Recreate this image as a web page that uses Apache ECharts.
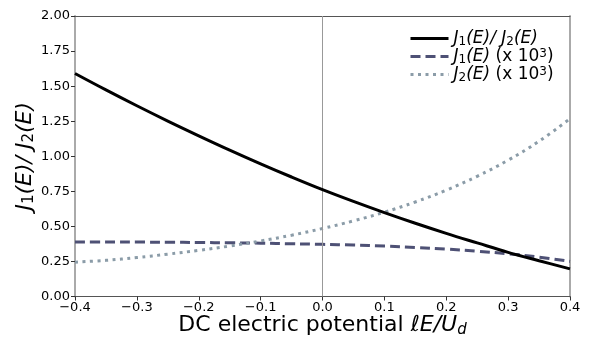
<!DOCTYPE html>
<html>
<head>
<meta charset="utf-8">
<script src="https://cdn.jsdelivr.net/npm/echarts@6/dist/echarts.min.js"></script>
<style>
  html, body { margin: 0; padding: 0; background: #fff; }
  #chart { width: 598px; height: 349px; }
</style>
</head>
<body>
<div id="chart"></div>
<script>
// values, x step 0.05
const xValues = [-0.4, -0.35, -0.3, -0.25, -0.2, -0.15, -0.1, -0.05, 0, 0.05, 0.1, 0.15, 0.2, 0.25, 0.3, 0.35, 0.4]
const ratio = [1.59, 1.473, 1.36, 1.251, 1.146, 1.044, 0.946, 0.852, 0.762, 0.678, 0.598, 0.522, 0.45, 0.382, 0.315, 0.255, 0.197]
const j1 = [0.389, 0.389, 0.388, 0.387, 0.385, 0.383, 0.38, 0.376, 0.372, 0.367, 0.36, 0.35, 0.338, 0.323, 0.305, 0.281, 0.25]
const j2 = [0.245, 0.258, 0.278, 0.302, 0.329, 0.36, 0.396, 0.437, 0.485, 0.539, 0.601, 0.674, 0.758, 0.857, 0.972, 1.107, 1.268]

const seriesNames = ['ratio', 'j1', 'j2']
const legendLabels = {
  ratio: '{i|J}{s|1}{i|(E)/ J}{s|2}{i|(E)}',
  j1: '{i|J}{s|1}{i|(E)}{n| (x 10}{p|3}{n|)}',
  j2: '{i|J}{s|2}{i|(E)}{n| (x 10}{p|3}{n|)}',
}

const font = 'DejaVu Sans'
const minus = (s) => s.replace('-', '\u2212')
const pairs = (ys) => xValues.map((x, i) => [x, ys[i]])

const chart = echarts.init(document.getElementById('chart'), null, { renderer: 'canvas' })

const legendRich = {
  i: { fontFamily: font, fontStyle: 'italic', fontSize: 17, color: '#000' },
  n: { fontFamily: font, fontSize: 17, color: '#000' },
  s: { fontFamily: font, fontSize: 12, color: '#000', verticalAlign: 'bottom', padding: [6, 0, 0, 0] },
  p: { fontFamily: font, fontSize: 12, color: '#000', verticalAlign: 'top', padding: [0, 0, 6, 0] },
}

const option = {
  animation: false,
  grid: { left: 75, right: 28, top: 16, bottom: 52.5 },
  legend: {
    orient: 'vertical',
    left: 404,
    top: 25,
    itemWidth: 38,
    itemHeight: 12,
    itemGap: 0,
    data: seriesNames,
    itemStyle: { opacity: 0, borderWidth: 0 },
    lineStyle: { width: 3 },
    formatter: (name) => legendLabels[name],
    textStyle: { fontFamily: font, fontSize: 17, color: '#000', rich: legendRich },
  },
  xAxis: [
    {
      type: 'value',
      min: -0.4,
      max: 0.4,
      interval: 0.1,
      position: 'bottom',
      splitLine: { show: false },
      axisLine: { show: true, onZero: false, lineStyle: { color: '#555', width: 1 } },
      axisTick: { show: true, length: 4, lineStyle: { color: '#333' } },
      axisLabel: {
        fontFamily: font, fontSize: 13, color: '#000', margin: 5,
        formatter: (v) => minus(v.toFixed(1)),
      },
      name: '{t|DC electric potential }{i|ℓE/U}{s|d}',
      nameLocation: 'middle',
      nameGap: 17,
      nameMoveOverlap: false,
      nameTextStyle: {
        fontFamily: font, fontSize: 22, color: '#000', verticalAlign: 'top',
        rich: {
          t: { fontFamily: font, fontSize: 22, color: '#000' },
          i: { fontFamily: font, fontSize: 22, fontStyle: 'italic', color: '#000' },
          s: { fontFamily: font, fontSize: 15, fontStyle: 'italic', color: '#000', verticalAlign: 'bottom', padding: [9, 0, 0, 0] },
        },
      },
    },
    {
      type: 'value',
      min: -0.4,
      max: 0.4,
      position: 'top',
      splitLine: { show: false },
      axisLine: { show: true, onZero: false, lineStyle: { color: '#555', width: 1 } },
      axisTick: { show: false },
      axisLabel: { show: false },
    },
  ],
  yAxis: [
    {
      type: 'value',
      min: 0,
      max: 2,
      interval: 0.25,
      position: 'left',
      splitLine: { show: false },
      axisLine: { show: true, onZero: false, lineStyle: { color: '#aaa', width: 2 } },
      axisTick: { show: true, length: 4, lineStyle: { color: '#333' } },
      axisLabel: {
        fontFamily: font, fontSize: 13, color: '#000', margin: 5,
        formatter: (v) => v.toFixed(2),
      },
      name: '{i|J}{s|1}{i|(E)/ J}{s|2}{i|(E)}',
      nameLocation: 'middle',
      nameGap: 38,
      nameMoveOverlap: false,
      nameRotate: 90,
      nameTextStyle: {
        fontFamily: font, fontSize: 22, color: '#000',
        rich: {
          i: { fontFamily: font, fontSize: 22, fontStyle: 'italic', color: '#000' },
          s: { fontFamily: font, fontSize: 15, color: '#000', verticalAlign: 'bottom', padding: [9, 0, 0, 0] },
        },
      },
    },
    {
      type: 'value',
      min: 0,
      max: 2,
      position: 'right',
      splitLine: { show: false },
      axisLine: { show: true, onZero: false, lineStyle: { color: '#aaa', width: 2 } },
      axisTick: { show: false },
      axisLabel: { show: false },
    },
  ],
  series: [
    {
      name: 'ratio',
      type: 'line',
      data: pairs(ratio),
      showSymbol: false,
      symbol: 'none',
      smooth: 0.4,
      color: '#000',
      lineStyle: { color: '#000', width: 3 },
      markLine: {
        silent: true,
        symbol: 'none',
        label: { show: false },
        lineStyle: { color: '#999', width: 1, type: 'solid' },
        data: [{ xAxis: 0 }],
      },
      z: 5,
    },
    {
      name: 'j1',
      type: 'line',
      data: pairs(j1),
      showSymbol: false,
      symbol: 'none',
      smooth: 0.4,
      color: '#4e5175',
      lineStyle: { color: '#4e5175', width: 3, type: [10, 5] },
      z: 3,
    },
    {
      name: 'j2',
      type: 'line',
      data: pairs(j2),
      showSymbol: false,
      symbol: 'none',
      smooth: 0.4,
      color: '#8b9ca8',
      lineStyle: { color: '#8b9ca8', width: 3, type: [3, 4.5] },
      z: 4,
    },
  ],
}

chart.setOption(option)
</script>
</body>
</html>
